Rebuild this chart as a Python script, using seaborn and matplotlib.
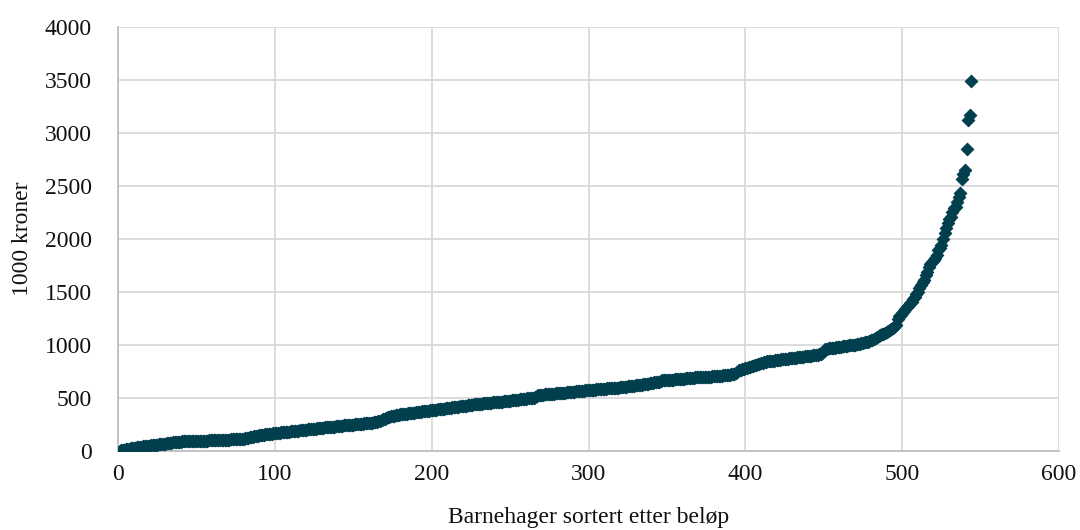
import numpy as np
import pandas as pd
import matplotlib
matplotlib.use("Agg")
import matplotlib.pyplot as plt
import seaborn as sns

# Amounts per kindergarten (1000 kr), sorted ascending, split by range
amounts_1_100 = [
    5, 8, 11, 14, 18, 20, 23, 25, 28, 30, 32, 34, 36, 39, 41, 45, 47, 49, 50, 52,
    54, 56, 58, 60, 61, 63, 65, 67, 69, 71, 73, 75, 77, 79, 81, 83, 85, 86, 87, 88,
    90, 91, 92, 93, 95, 95, 96, 96, 97, 97, 97, 98, 98, 98, 99, 99, 99, 100, 100, 100,
    101, 101, 102, 103, 104, 105, 106, 107, 107, 108, 108, 109, 109, 110, 110, 110, 112, 113, 115, 118,
    121, 124, 127, 130, 132, 135, 138, 141, 144, 148, 151, 153, 155, 157, 159, 161, 163, 165, 167, 170,
]
amounts_101_200 = [
    171, 173, 174, 176, 178, 179, 181, 182, 184, 185, 187, 188, 190, 191, 193, 195, 196, 198, 200, 202,
    204, 205, 207, 208, 210, 212, 213, 215, 217, 218, 220, 222, 223, 225, 227, 228, 230, 231, 233, 235,
    236, 238, 239, 241, 242, 244, 245, 247, 248, 250, 251, 253, 254, 256, 257, 259, 260, 262, 263, 265,
    267, 269, 271, 274, 277, 281, 286, 292, 298, 305, 312, 318, 322, 326, 330, 333, 336, 339, 342, 345,
    347, 349, 351, 353, 355, 357, 359, 361, 363, 365, 367, 369, 371, 373, 375, 377, 379, 381, 383, 385,
]
amounts_201_300 = [
    387, 389, 391, 393, 395, 397, 399, 401, 403, 405, 407, 409, 411, 413, 415, 417, 419, 421, 423, 425,
    427, 429, 431, 433, 435, 437, 439, 441, 443, 445, 447, 448, 450, 451, 452, 454, 455, 456, 458, 460,
    461, 462, 463, 465, 467, 469, 471, 473, 474, 476, 478, 480, 482, 484, 485, 487, 489, 491, 493, 495,
    497, 499, 501, 503, 505, 512, 520, 524, 527, 530, 532, 534, 536, 538, 539, 540, 541, 542, 543, 545,
    546, 548, 549, 551, 552, 554, 555, 557, 558, 560, 561, 563, 564, 566, 567, 569, 570, 572, 573, 575,
]
amounts_301_400 = [
    576, 578, 579, 580, 582, 583, 584, 586, 587, 588, 589, 590, 591, 592, 594, 595, 596, 597, 599, 600,
    601, 603, 605, 607, 609, 611, 613, 615, 617, 619, 621, 623, 625, 627, 629, 631, 634, 637, 640, 643,
    645, 648, 650, 652, 654, 660, 666, 668, 669, 670, 671, 672, 673, 674, 675, 676, 677, 678, 680, 682,
    684, 686, 688, 690, 691, 692, 693, 694, 695, 696, 697, 698, 699, 700, 701, 702, 703, 703, 704, 705,
    706, 708, 709, 711, 712, 714, 715, 717, 719, 720, 722, 724, 728, 740, 752, 762, 767, 771, 775, 779,
]
amounts_401_496 = [
    784, 789, 794, 799, 804, 809, 814, 819, 824, 829, 833, 837, 841, 845, 848, 850, 852, 854, 856, 858,
    860, 862, 864, 866, 868, 870, 872, 874, 876, 878, 880, 882, 884, 886, 888, 889, 891, 893, 895, 897,
    899, 901, 903, 905, 907, 910, 913, 917, 922, 945, 962, 966, 968, 970, 972, 974, 976, 978, 980, 984,
    986, 988, 990, 992, 994, 996, 998, 1000, 1002, 1005, 1008, 1011, 1014, 1017, 1020, 1024, 1028, 1033, 1038, 1044,
    1052, 1060, 1068, 1076, 1084, 1092, 1100, 1108, 1115, 1122, 1130, 1140, 1150, 1160, 1170, 1185,
]
amounts_497_544 = [
    1250, 1270, 1285, 1300, 1320, 1340, 1355, 1370, 1393, 1410,
    1430, 1456, 1480, 1503, 1535, 1566, 1590, 1613, 1660, 1692,
    1739, 1760, 1786, 1800, 1818, 1850, 1896, 1920, 1943, 2000,
    2053, 2101, 2150, 2186, 2210, 2258, 2290, 2305, 2352, 2400,
    2431, 2570, 2610, 2651, 2849, 3123, 3170, 3490,
]

x_ticks = [0, 100, 200, 300, 400, 500, 600]
y_ticks = [0, 500, 1000, 1500, 2000, 2500, 3000, 3500, 4000]
x_title = "Barnehager sortert etter beløp"
y_title = "1000 kroner"

amounts = (amounts_1_100 + amounts_101_200 + amounts_201_300
           + amounts_301_400 + amounts_401_496 + amounts_497_544)
df = pd.DataFrame({"rank": np.arange(1, len(amounts) + 1), "amount": amounts})

sns.set_theme(style="white")
plt.rcParams["font.family"] = ["Liberation Serif", "DejaVu Serif"]

fig = plt.figure(figsize=(10.8, 5.3), dpi=100)
ax = fig.add_axes([0.1093, 0.149, 0.8713, 0.8])

sns.scatterplot(data=df, x="rank", y="amount", ax=ax, marker="D", s=40,
                color="#013f4f", edgecolor="#013f4f", linewidth=0.8, zorder=3)

ax.set_xlim(0, 600)
ax.set_ylim(0, 4000)
ax.set_xticks(x_ticks)
ax.set_yticks(y_ticks)
ax.set_xticklabels([str(v) for v in x_ticks])
ax.set_yticklabels([str(v) for v in y_ticks])
ax.grid(True, color="#d9d9d9", linewidth=1.3, zorder=0)
ax.set_axisbelow(True)
for side in ("top", "right"):
    ax.spines[side].set_visible(False)
for side in ("left", "bottom"):
    ax.spines[side].set_color("#bfbfbf")
    ax.spines[side].set_linewidth(1.3)
ax.tick_params(axis="both", length=0, labelsize=17, colors="#111111")
ax.tick_params(axis="x", pad=9)
ax.tick_params(axis="y", pad=19)
ax.set_xlabel(x_title, fontsize=17, color="#111111", labelpad=16)
ax.set_ylabel(y_title, fontsize=17, color="#111111", labelpad=8)

fig.savefig("out.png", dpi=100)
